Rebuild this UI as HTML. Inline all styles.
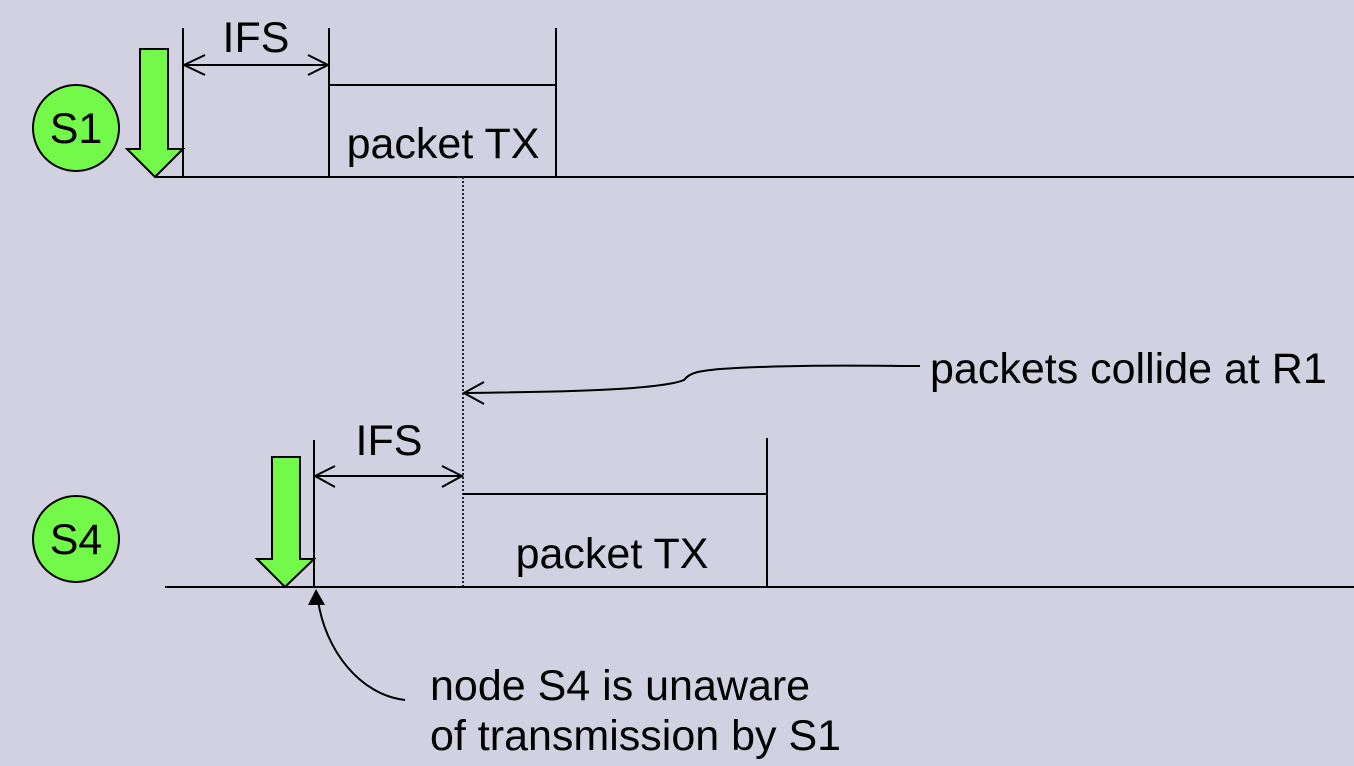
<!DOCTYPE html>
<html><head><style>
html,body{margin:0;padding:0;background:#d2d1e1;}
svg{display:block;}
text{font-family:"Liberation Sans",sans-serif;fill:#000;}
</style></head><body>
<svg width="1354" height="766" viewBox="0 0 1354 766" xmlns="http://www.w3.org/2000/svg">
<rect width="1354" height="766" fill="#d2d1e1"/>
<g stroke="#000" stroke-width="2" fill="none">
<line x1="155" y1="177" x2="1354" y2="177"/>
<line x1="183" y1="28" x2="183" y2="177"/>
<line x1="329" y1="28" x2="329" y2="177"/>
<line x1="556" y1="28" x2="556" y2="177"/>
<line x1="329" y1="85" x2="556" y2="85"/>
<line x1="184" y1="65" x2="328" y2="65"/>
<polyline points="205,55 184,65 205,75"/>
<polyline points="308,55 328,65 308,75"/>
<line x1="463" y1="177" x2="463" y2="587" stroke-dasharray="2,2" stroke="#223"/>
<line x1="165" y1="587" x2="1354" y2="587"/>
<line x1="314" y1="440" x2="314" y2="587"/>
<line x1="767" y1="438" x2="767" y2="587"/>
<line x1="463" y1="494" x2="767" y2="494"/>
<line x1="315" y1="476" x2="462" y2="476"/>
<polyline points="335,466 315,476 335,487"/>
<polyline points="442,466 462,476 442,487"/>
<path d="M464,393 C560,392 660,390 684,380 C690,372 700,371 720,369 C800,364 880,366 920,366"/>
<polyline points="484,382 464,393 484,404"/>
<path d="M318,600 C325,650 360,695 405,700"/>
</g>
<polygon points="316,589 308,605 325,605" fill="#000"/>
<circle cx="76" cy="128" r="43" fill="#73f94a" stroke="#000" stroke-width="2"/>
<circle cx="76" cy="539" r="43" fill="#73f94a" stroke="#000" stroke-width="2"/>
<text x="76" y="143" font-size="43" text-anchor="middle">S1</text>
<text x="76" y="554" font-size="43" text-anchor="middle">S4</text>
<polygon points="140,49 168,49 168,149 183,149 155,177 127,149 140,149" fill="#73f94a" stroke="#000" stroke-width="2"/>
<polygon points="272,457 300,457 300,559 314,559 285,587 257,559 272,559" fill="#73f94a" stroke="#000" stroke-width="2"/>
<text x="256" y="52" font-size="43" text-anchor="middle">IFS</text>
<text x="443" y="158" font-size="43" text-anchor="middle">packet TX</text>
<text x="389" y="455" font-size="43" text-anchor="middle">IFS</text>
<text x="612" y="568" font-size="43" text-anchor="middle">packet TX</text>
<text x="930" y="383" font-size="43">packets collide at R1</text>
<text x="430" y="700" font-size="43">node S4 is unaware</text>
<text x="430" y="750" font-size="43">of transmission by S1</text>
</svg>
</body></html>
